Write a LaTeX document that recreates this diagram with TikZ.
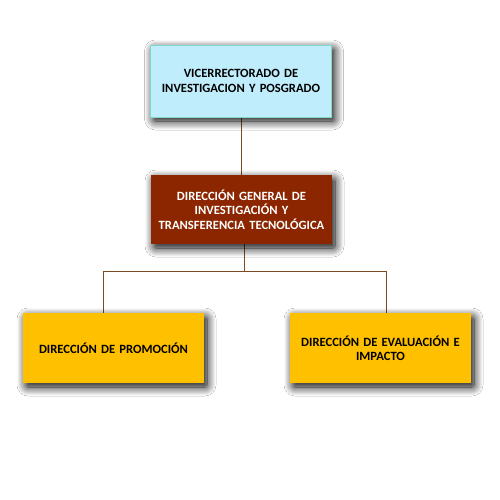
\documentclass[tikz,border=0pt]{standalone}
\usepackage{fontspec}
\setmainfont{Carlito}
\usetikzlibrary{positioning,shadows.blur}
\definecolor{vipCyan}{HTML}{BFEDFC}
\definecolor{vipCyanLine}{HTML}{7FD8C8}
\definecolor{dgitRed}{HTML}{8B2600}
\definecolor{dirYellow}{HTML}{FFC000}
\definecolor{linkBrown}{HTML}{7A4A20}
\begin{document}
\begin{tikzpicture}[x=1pt, y=-1pt,
      % --- GLOBAL STYLES ---
      every node/.style={font=\fontsize{12.6}{14.5}\selectfont\bfseries},
      org-box/.style={rectangle, minimum width=181pt, text width=175pt, align=center, inner sep=0pt,
        blur shadow={shadow xshift=3pt, shadow yshift=-4pt, shadow blur radius=9pt, shadow blur steps=12, shadow opacity=100, shadow blur extra rounding=2pt}},
      org-top/.style={org-box, fill=vipCyan, draw=vipCyanLine, line width=0.6pt, minimum height=72pt},
      org-mid/.style={org-box, fill=dgitRed, text=white, minimum height=69pt},
      org-dir/.style={org-box, fill=dirYellow, minimum height=70pt},
      line/.style={draw=linkBrown, line width=0.8pt}
  ]
    %
    % 0. Canvas
    \useasboundingbox[fill=white] (0,0) rectangle (500,500);
    %
    % 1. Links (drawn first, boxes cover their ends)
    \coordinate (hub) at (244, 271);
    \coordinate (hubL) at (103, 271);
    \coordinate (hubR) at (386, 271);
    \coordinate (topL) at (103, 313);
    \coordinate (topR) at (386, 313);
    \coordinate (vipB) at (241, 117);
    \coordinate (dgitT) at (241, 175);
    \coordinate (dgitB) at (244, 244);
    \draw[line] (vipB) -- (dgitT);
    \draw[line] (dgitB) -- (hub);
    \draw[line] (topL) -- (hubL) -- (hubR) -- (topR);
    %
    % 2. Boxes
    \node[org-top] (vip) at (241, 81) {VICERRECTORADO DE\\INVESTIGACION Y POSGRADO};
    \node[org-mid] (dgit) at (241.5, 209.5) {DIRECCIÓN GENERAL DE\\INVESTIGACIÓN Y\\TRANSFERENCIA TECNOLÓGICA};
    \node[org-dir] (promo) at (113.5, 348) {DIRECCIÓN DE PROMOCIÓN};
    \node[org-dir] (eval) at (380.5, 348) {DIRECCIÓN DE EVALUACIÓN E\\IMPACTO};
  \end{tikzpicture}
\end{document}
